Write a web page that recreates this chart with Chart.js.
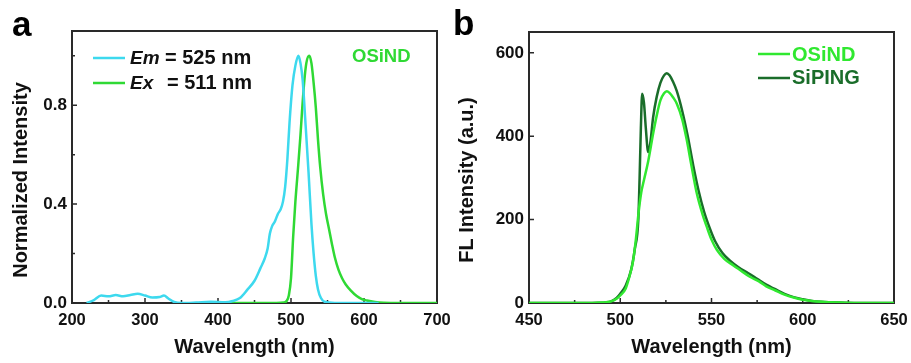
<!DOCTYPE html>
<html>
<head>
<meta charset="utf-8">
<script src="https://cdn.jsdelivr.net/npm/chart.js@4"></script>
<style>
  html, body { margin: 0; background: #fff; }
  #wrap { position: relative; width: 911px; height: 363px; overflow: hidden; }
  canvas { position: absolute; top: 0; }
  #chartA { left: 0; }
  #chartB { left: 455px; }
</style>
</head>
<body>
<div id="wrap">
  <canvas id="chartA" width="455" height="363"></canvas>
  <canvas id="chartB" width="456" height="363"></canvas>
</div>
<script>
// panel a: excitation (Em = 525 nm) and emission (Ex = 511 nm), normalized
const aEmX = [220, 230, 240, 250, 260, 270, 280, 290, 300, 310, 320, 326, 332, 340, 350, 370, 390, 410, 420, 430,
  440, 450, 458, 464, 468, 471, 474, 478, 482, 486, 489, 492, 495, 498, 502, 506, 510, 513, 516, 520,
  524, 528, 531, 534, 537, 541, 546, 560, 620];
const aEmY = [0, 0.012, 0.03, 0.027, 0.032, 0.027, 0.032, 0.037, 0.03, 0.022, 0.024, 0.03, 0.018, 0.004, 0, 0.002, 0.005, 0.003, 0.008, 0.02,
  0.053, 0.09, 0.14, 0.18, 0.22, 0.28, 0.31, 0.33, 0.36, 0.38, 0.41, 0.47, 0.58, 0.73, 0.88, 0.96, 1.0, 0.97, 0.9, 0.72,
  0.53, 0.32, 0.2, 0.11, 0.055, 0.02, 0.005, 0, 0];
const aExX = [400, 480, 490, 494, 497, 500, 503, 506, 510, 513, 515, 518, 521, 525, 528, 531, 534, 537, 540, 544,
  548, 552, 556, 560, 565, 570, 575, 582, 590, 597, 604, 615, 627, 650, 700];
const aExY = [0, 0, 0.002, 0.008, 0.03, 0.1, 0.27, 0.41, 0.56, 0.68, 0.77, 0.89, 0.97, 1.0, 0.97, 0.89, 0.79, 0.66, 0.55, 0.44,
  0.36, 0.3, 0.24, 0.185, 0.135, 0.1, 0.075, 0.05, 0.028, 0.016, 0.01, 0.004, 0.001, 0, 0];
const aXTicks = [200, 300, 400, 500, 600, 700];
const aXMinor = [250, 350, 450, 550, 650];
const aYTicks = [0, 0.4, 0.8];
const aYMinor = [0.2, 0.6, 1.0];

// panel b: FL intensity
const bOsX = [450, 485, 490, 495, 498, 500, 503, 505, 507, 508.5, 510, 511.5, 513, 515.4, 518, 520, 522, 524, 525.5, 527,
  529, 531, 534, 536.4, 539, 542, 545, 547.4, 550, 553, 557, 562, 566, 571, 576, 580, 585, 590, 595, 600,
  605, 610, 620, 630, 650];
const bOsY = [0, 0, 1, 4, 10, 18, 35, 63, 100, 150, 215, 265, 295, 342, 406, 450, 486, 503, 508, 504,
  493, 478, 440, 392, 330, 262, 214, 183, 152, 127, 106, 90, 78, 63, 52, 40, 30, 20, 13, 8,
  5, 3, 1, 0, 0];
const bSiX = [450, 480, 488, 492, 495, 498, 500, 503, 506, 508, 509.9, 510.6, 511.3, 512, 513, 514, 515.3, 516.5, 518, 520,
  522, 524, 525.5, 527, 529, 531, 534, 537, 540, 543, 546, 549, 552, 556, 560, 565, 570, 575, 580, 585,
  590, 595, 600, 605, 610, 620, 630, 650];
const bSiY = [0, 0, 0.5, 1.5, 4, 12, 22, 42, 80, 130, 200, 300, 420, 502, 480, 420, 362, 385, 445, 495,
  528, 546, 551, 546, 530, 508, 460, 400, 330, 268, 218, 180, 148, 120, 102, 85, 72, 58, 44, 33,
  22, 14, 9, 5, 3, 1, 0, 0];
const bXTicks = [450, 500, 550, 600, 650];
const bXMinor = [475, 525, 575, 625];
const bYTicks = [0, 200, 400, 600];

const CYAN = '#3dd9ee';
const GREEN_A = '#2fd934';
const LIGHT = '#30e830';
const DARK = '#1a6d2a';
const INK = '#111';
const FAM = '"Liberation Sans", Arial, sans-serif';

Chart.defaults.font.family = FAM;
Chart.defaults.color = INK;

const pts = (xs, ys) => xs.map((x, i) => ({ x: x, y: ys[i] }));

// frame + inward ticks, drawn under the curves
const framePlugin = {
  id: 'frame',
  beforeDatasetsDraw(chart, args, o) {
    const { ctx, chartArea: a, scales: { x, y } } = chart;
    ctx.save();
    ctx.strokeStyle = '#2a2a2a';
    ctx.lineWidth = 2;
    ctx.strokeRect(a.left, a.top, a.right - a.left, a.bottom - a.top);
    ctx.lineWidth = 1.5;
    ctx.beginPath();
    const xt = (v, len) => { const p = x.getPixelForValue(v); ctx.moveTo(p, a.bottom); ctx.lineTo(p, a.bottom - len); };
    const yt = (v, len) => { const p = y.getPixelForValue(v); ctx.moveTo(a.left, p); ctx.lineTo(a.left + len, p); };
    o.xMajor.forEach(v => xt(v, 5));
    o.xMinor.forEach(v => xt(v, 3));
    o.yMajor.forEach(v => yt(v, 5));
    o.yMinor.forEach(v => yt(v, 3));
    ctx.stroke();
    ctx.restore();
  },
  afterDraw(chart, args, o) {
    const ctx = chart.ctx;
    ctx.save();
    // y axis title
    ctx.translate(o.yTitle.x, o.yTitle.y);
    ctx.rotate(-Math.PI / 2);
    ctx.font = 'bold 20px ' + FAM;
    ctx.fillStyle = INK;
    ctx.textAlign = 'center';
    ctx.textBaseline = 'alphabetic';
    ctx.fillText(o.yTitle.text, 0, 0);
    ctx.restore();

    ctx.save();
    ctx.textAlign = 'left';
    ctx.textBaseline = 'alphabetic';
    ctx.font = 'bold 35px ' + FAM;
    ctx.fillStyle = '#000';
    ctx.fillText(o.panel.text, o.panel.x, o.panel.y);
    o.swatches.forEach(s => {
      ctx.strokeStyle = s.color;
      ctx.lineWidth = 2.5;
      ctx.beginPath();
      ctx.moveTo(s.x1, s.y);
      ctx.lineTo(s.x2, s.y);
      ctx.stroke();
    });
    o.texts.forEach(t => {
      ctx.font = t.font;
      ctx.fillStyle = t.color;
      ctx.fillText(t.text, t.x, t.y);
    });
    ctx.restore();
  }
};

function makeChart(id, datasets, sx, sy, pad, yLabel, plug) {
  return new Chart(document.getElementById(id), {
    type: 'line',
    data: { datasets: datasets },
    options: {
      responsive: false,
      animation: false,
      devicePixelRatio: 1,
      layout: { padding: pad },
      elements: { point: { radius: 0 }, line: { borderWidth: 2.5, cubicInterpolationMode: 'monotone' } },
      plugins: { legend: { display: false }, tooltip: { enabled: false }, frame: plug },
      scales: {
        x: {
          type: 'linear', min: sx.min, max: sx.max,
          afterBuildTicks: s => { s.ticks = sx.ticks.map(v => ({ value: v })); },
          afterFit: s => { s.height = 60; s.paddingLeft = 0; s.paddingRight = 0; },
          grid: { display: false, drawTicks: false, tickLength: 0 },
          border: { display: false },
          ticks: { autoSkip: false, maxRotation: 0, padding: 8, font: { size: 16.5, weight: 'bold' }, color: INK },
          title: { display: true, text: 'Wavelength (nm)', font: { size: 20, weight: 'bold' }, color: INK, padding: { top: 0, bottom: 4 } }
        },
        y: {
          type: 'linear', min: sy.min, max: sy.max,
          afterBuildTicks: s => { s.ticks = sy.ticks.map(v => ({ value: v })); },
          afterFit: s => { s.width = sy.width; s.paddingTop = 0; s.paddingBottom = 0; },
          grid: { display: false, drawTicks: false, tickLength: 0 },
          border: { display: false },
          ticks: { autoSkip: false, padding: 5, font: { size: 17, weight: 'bold' }, color: INK, callback: yLabel }
        }
      }
    },
    plugins: [framePlugin]
  });
}

makeChart('chartA', [
  { label: 'Em = 525 nm', data: pts(aEmX, aEmY), borderColor: CYAN },
  { label: 'Ex = 511 nm', data: pts(aExX, aExY), borderColor: GREEN_A }
], { min: 200, max: 700, ticks: aXTicks },
   { min: 0, max: 1.1, ticks: aYTicks, width: 72 },
   { left: 0, right: 18, top: 31, bottom: 0 },
   v => v.toFixed(1),
   {
     xMajor: aXTicks, xMinor: aXMinor, yMajor: aYTicks, yMinor: aYMinor,
     yTitle: { text: 'Normalized Intensity', x: 27, y: 180 },
     panel: { text: 'a', x: 12, y: 36 },
     swatches: [{ x1: 93, x2: 125, y: 58, color: CYAN }, { x1: 93, x2: 125, y: 83, color: GREEN_A }],
     texts: [
       { text: 'Em', x: 130, y: 64, font: 'italic bold 19px ' + FAM, color: INK },
       { text: '= 525 nm', x: 165, y: 64, font: 'bold 20px ' + FAM, color: INK },
       { text: 'Ex', x: 130, y: 89, font: 'italic bold 19px ' + FAM, color: INK },
       { text: '= 511 nm', x: 167, y: 89, font: 'bold 20px ' + FAM, color: INK },
       { text: 'OSiND', x: 352, y: 62, font: 'bold 18.5px ' + FAM, color: GREEN_A }
     ]
   });

makeChart('chartB', [
  { label: 'OSiND', data: pts(bOsX, bOsY), borderColor: LIGHT },
  { label: 'SiPING', data: pts(bSiX, bSiY), borderColor: DARK }
], { min: 450, max: 650, ticks: bXTicks },
   { min: 0, max: 650, ticks: bYTicks, width: 74 },
   { left: 0, right: 17, top: 32, bottom: 0 },
   v => String(v),
   {
     xMajor: bXTicks, xMinor: bXMinor, yMajor: bYTicks, yMinor: [],
     yTitle: { text: 'FL Intensity (a.u.)', x: 18, y: 180 },
     panel: { text: 'b', x: -2, y: 35 },
     swatches: [{ x1: 303, x2: 335, y: 54, color: LIGHT }, { x1: 303, x2: 335, y: 78, color: DARK }],
     texts: [
       { text: 'OSiND', x: 337, y: 61, font: 'bold 20px ' + FAM, color: LIGHT },
       { text: 'SiPING', x: 337, y: 84, font: 'bold 20px ' + FAM, color: DARK }
     ]
   });
</script>
</body>
</html>
